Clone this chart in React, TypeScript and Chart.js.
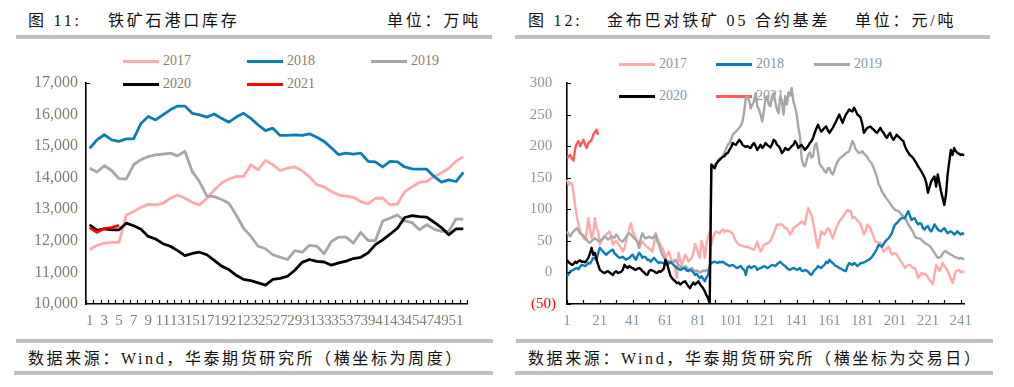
import React, { useEffect, useRef } from 'react';
import { Chart, registerables } from 'chart.js';

Chart.register(...registerables);

// ---------- Left chart: iron ore port inventory (weekly, 10k tons) ----------
const weekCats = Array.from({ length: 52 }, (_, i) => String(i + 1));
const inv2017 = [11720, 11860, 11930, 11950, 11950, 12820, 12930, 13060, 13160, 13140, 13190, 13350, 13450, 13350, 13220, 13140, 13350, 13610, 13830, 13960, 14040, 14040, 14410, 14250, 14550, 14410, 14230, 14300, 14340, 14220, 14020, 13780, 13710, 13560, 13450, 13420, 13380, 13240, 13170, 13350, 13350, 13140, 13170, 13560, 13710, 13850, 13880, 14040, 14150, 14300, 14520, 14670];
const inv2018 = [14930, 15200, 15360, 15200, 15150, 15230, 15230, 15720, 15940, 15830, 15990, 16150, 16270, 16270, 16040, 15990, 15920, 16020, 15880, 15760, 15920, 16040, 15880, 15670, 15490, 15570, 15340, 15340, 15360, 15340, 15390, 15280, 15150, 14940, 14730, 14780, 14750, 14780, 14520, 14500, 14340, 14520, 14500, 14340, 14280, 14270, 14270, 14040, 13860, 13930, 13880, 14170];
const inv2019 = [14300, 14180, 14380, 14230, 13970, 13960, 14410, 14570, 14670, 14720, 14750, 14780, 14690, 14840, 14200, 13870, 13420, 13400, 13310, 13190, 12820, 12400, 12140, 11830, 11750, 11560, 11480, 11410, 11690, 11640, 11860, 11830, 11590, 11980, 12120, 12120, 11930, 12270, 12010, 12010, 12630, 12720, 12820, 12630, 12580, 12350, 12510, 12370, 12300, 12300, 12690, 12690];
const inv2020 = [12510, 12330, 12380, 12350, 12350, 12560, 12480, 12370, 12140, 12060, 11910, 11830, 11690, 11530, 11600, 11640, 11560, 11380, 11200, 11090, 10910, 10780, 10740, 10670, 10600, 10780, 10810, 10880, 11070, 11320, 11410, 11350, 11330, 11230, 11300, 11360, 11440, 11480, 11620, 11880, 12030, 12210, 12400, 12740, 12800, 12770, 12750, 12590, 12420, 12190, 12380, 12380];
const inv2021 = [12420, 12270, 12390, 12420, 12490];

// ---------- Right chart: basis (trading days, yuan/ton) ----------
const dayCats = Array.from({ length: 243 }, (_, i) => String(i + 1));
const basis2017 = [
  147, 139, 142, 140, 125, 105, 88, 76, 65, 60,
  55, 52, 64, 86, 70, 54, 62, 86, 70, 65,
  44, 50, 54, 58, 60, 63, 65, 55, 44, 48,
  50, 46, 42, 39, 33, 38, 49, 60, 70, 78,
  65, 60, 54, 50, 39, 44, 49, 45, 42, 40,
  38, 36, 33, 45, 62, 55, 49, 44, 39, 33,
  23, 28, 33, 25, 18, 12, 5, -9, 31, 20,
  12, 20, 28, 24, 17, 20, 23, 30, 45, 39,
  30, 23, 50, 40, 23, 45, 58, 65, 44, 55,
  62, 65, 63, 62, 66, 68, 64, 67, 65, 66,
  63, 62, 55, 49, 46, 44, 43, 42, 41, 40,
  41, 39, 38, 37, 36, 42, 49, 40, 33, 38,
  44, 45, 46, 47, 50, 55, 62, 68, 76, 75,
  76, 76, 73, 70, 70, 65, 60, 64, 70, 72,
  74, 76, 78, 81, 78, 76, 90, 102, 96, 91,
  80, 65, 50, 39, 52, 65, 62, 60, 65, 70,
  68, 60, 54, 62, 70, 75, 81, 84, 88, 91,
  96, 99, 97, 97, 86, 88, 86, 82, 80, 76,
  68, 60, 66, 76, 73, 70, 62, 56, 49, 48,
  47, 47, 40, 33, 36, 38, 41, 35, 28, 30,
  31, 28, 24, 20, 16, 12, 7, 10, 12, 12,
  9, 7, 7, 0, -9, -5, -1, -3, -2, -4,
  -8, -12, -15, -19, -3, 12, 8, 2, 8, 15,
  10, 7, 2, -4, -10, -17, -8, 2, 3, 4,
  0, 2, -1,
];
const basis2018 = [
  -6, -3, 2, 3, 4, 6, 7, 5, 9, 12,
  11, 10, 12, 15, 14, 18, 23, 22, 20, 31,
  39, 36, 33, 30, 28, 31, 33, 35, 36, 30,
  28, 25, 23, 24, 25, 22, 20, 22, 23, 26,
  28, 24, 20, 26, 31, 28, 23, 25, 24, 20,
  20, 17, 20, 23, 20, 17, 15, 16, 15, 15,
  13, 12, 14, 17, 14, 12, 10, 7, 6, 4,
  5, 7, 6, 3, 2, 4, 3, 0, -4, -2,
  -6, -9, -6, -10, -14, -8, -4, 12, 15, 16,
  17, 16, 15, 17, 16, 17, 15, 13, 12, 10,
  11, 12, 10, 8, 7, 9, 10, 6, 4, -4,
  8, 10, 7, 8, 10, 9, 4, 6, 7, 8,
  10, 9, 7, 8, 10, 12, 11, 10, 13, 15,
  17, 14, 12, 10, 7, 5, 4, 6, 7, 6,
  4, 5, 7, 3, 2, 4, 3, 1, -2, -4,
  0, 4, 6, 10, 8, 7, 10, 12, 17, 15,
  20, 17, 15, 12, 10, 9, 7, 6, 4, 3,
  2, 10, 15, 13, 12, 15, 13, 10, 12, 15,
  15, 16, 17, 19, 20, 22, 25, 29, 33, 38,
  44, 42, 41, 45, 49, 52, 54, 58, 62, 70,
  76, 78, 81, 84, 86, 86, 86, 92, 97, 90,
  83, 85, 86, 80, 76, 78, 77, 70, 68, 72,
  73, 68, 65, 70, 76, 72, 68, 66, 65, 68,
  70, 66, 62, 64, 65, 63, 60, 62, 65, 62,
  60, 62, 60,
];
const basis2019 = [
  65, 60, 57, 62, 65, 68, 70, 66, 62, 60,
  58, 55, 52, 48, 47, 50, 52, 54, 52, 50,
  49, 52, 54, 57, 55, 52, 54, 57, 56, 55,
  60, 57, 52, 50, 49, 52, 56, 60, 62, 60,
  57, 54, 52, 47, 39, 55, 62, 56, 54, 55,
  57, 55, 54, 57, 60, 50, 44, 36, 28, 24,
  20, 18, 17, 16, 15, 17, 20, 16, 12, 10,
  7, 8, 10, 8, 4, 5, 7, 4, 2, 3,
  2, 0, 1, 3, 2, 4, 2, 3, 162, 165,
  170, 173, 176, 180, 181, 185, 190, 196, 202, 205,
  210, 218, 221, 223, 226, 229, 233, 239, 255, 276,
  279, 272, 260, 266, 271, 284, 263, 258, 250, 239,
  255, 276, 279, 266, 263, 279, 284, 270, 258, 252,
  279, 271, 250, 279, 266, 285, 280, 292, 271, 262,
  250, 230, 216, 181, 171, 168, 176, 186, 190, 182,
  184, 200, 205, 190, 172, 168, 165, 160, 158, 165,
  165, 158, 155, 162, 170, 176, 180, 182, 184, 186,
  189, 190, 192, 200, 208, 203, 195, 192, 189, 190,
  192, 188, 186, 183, 178, 175, 171, 165, 158, 150,
  139, 135, 128, 124, 120, 116, 113, 109, 105, 102,
  99, 98, 97, 95, 91, 89, 86, 82, 76, 72,
  68, 64, 57, 55, 54, 54, 52, 49, 47, 45,
  44, 42, 39, 35, 31, 27, 23, 24, 25, 30,
  33, 34, 31, 30, 28, 27, 25, 24, 23, 22,
  23, 22, 20,
];
const basis2020 = [
  20, 16, 14, 12, 13, 17, 15, 18, 19, 17,
  17, 16, 19, 23, 30, 39, 28, 31, 20, 12,
  4, 2, 0, -1, 1, 2, 0, -2, -4, 0,
  2, -1, 0, 1, 4, 12, 9, 7, 10, 8,
  7, 5, 4, 6, 7, 5, 2, 0, -3, -4,
  2, 4, 3, 2, 0, -1, 2, 1, 3, 6,
  20, 14, 4, -5, -9, -12, -14, -17, -16, -19,
  -17, -15, -14, -18, -22, -25, -20, -16, -19, -17,
  -14, -18, -22, -25, -30, -36, -41, -50, 171, 168,
  165, 172, 176, 178, 181, 183, 184, 188, 189, 194,
  198, 205, 203, 202, 206, 210, 207, 202, 200, 199,
  200, 198, 197, 202, 205, 200, 194, 198, 202, 197,
  200, 205, 202, 200, 198, 203, 210, 208, 202, 200,
  196, 189, 192, 197, 195, 194, 197, 200, 202, 208,
  204, 197, 200, 202, 198, 194, 197, 200, 205, 208,
  213, 221, 228, 234, 228, 223, 226, 229, 231, 225,
  221, 225, 229, 234, 239, 245, 250, 243, 237, 244,
  250, 254, 258, 256, 255, 261, 256, 250, 248, 245,
  235, 221, 225, 229, 230, 231, 228, 226, 223, 221,
  225, 229, 224, 221, 216, 213, 218, 221, 214, 210,
  214, 218, 215, 213, 210, 208, 200, 194, 190, 186,
  184, 181, 177, 173, 168, 164, 160, 155, 150, 142,
  126, 135, 144, 148, 152, 136, 155, 142, 128, 118,
  107, 123, 155, 175, 194, 186, 197, 192, 189, 188,
  186, 187, 185,
];
const basis2021 = [181, 184, 186, 180, 177, 197, 204, 208, 200, 205, 210, 203, 197, 205, 207, 210, 218, 222, 226, 218];

const yearNames = ['2017', '2018', '2019', '2020', '2021'];

const PINK = '#FFAAAA';
const BLUE = '#0A7DB4';
const GRAY = '#A6A6A6';
const BLACK = '#000000';
const RED_L = '#FF0000';
const RED_R = '#FF5A5A';
const LEFT_TXT = '#8C7A6A';
const RIGHT_TXT = '#8497B0';
const SERIF = "'Liberation Serif', 'DejaVu Serif', serif";
const CJK = "'Liberation Serif', 'Noto Sans CJK SC', serif";

const innerTicks = {
  id: 'innerTicks',
  afterDraw(chart: any, _args: any, opts: any) {
    const { ctx, chartArea } = chart;
    const xs = chart.scales.x;
    const ys = chart.scales.y;
    ctx.save();
    ctx.strokeStyle = '#000';
    ctx.lineWidth = 1.2;
    ctx.beginPath();
    const n = chart.data.labels.length;
    if (opts.xMode === 'boundary') {
      for (let i = 0; i <= n; i++) {
        const px = Math.round(xs.getPixelForValue(i - 0.5)) + 0.5;
        ctx.moveTo(px, chartArea.bottom);
        ctx.lineTo(px, chartArea.bottom - opts.len);
      }
    } else {
      for (let i = 0; i < n; i += opts.xEvery) {
        const px = Math.round(xs.getPixelForValue(i)) + 0.5;
        ctx.moveTo(px, chartArea.bottom);
        ctx.lineTo(px, chartArea.bottom - opts.len);
      }
    }
    if (opts.yAll) {
      ys.ticks.forEach((t: any) => {
        const py = Math.round(ys.getPixelForValue(t.value)) + 0.5;
        ctx.moveTo(chartArea.left, py);
        ctx.lineTo(chartArea.left + opts.len, py);
      });
    } else {
      const py = Math.round(ys.getPixelForValue(ys.max)) + 0.5;
      ctx.moveTo(chartArea.left, py);
      ctx.lineTo(chartArea.left + opts.len, py);
    }
    ctx.stroke();
    ctx.restore();
  },
};

function ds(label: string, data: number[], color: string, order: number, width: number) {
  return {
    label,
    data,
    borderColor: color,
    backgroundColor: color,
    borderWidth: width,
    pointRadius: 0,
    pointHoverRadius: 0,
    tension: 0,
    fill: false,
    order,
    borderJoinStyle: 'round' as const,
  };
}

function leftConfig(): any {
  return {
    type: 'line',
    data: {
      labels: weekCats,
      datasets: [
        ds(yearNames[4], inv2021, RED_L, 1, 2.8),
        ds(yearNames[3], inv2020, BLACK, 2, 2.8),
        ds(yearNames[1], inv2018, BLUE, 3, 2.8),
        ds(yearNames[2], inv2019, GRAY, 4, 2.8),
        ds(yearNames[0], inv2017, PINK, 5, 2.8),
      ],
    },
    plugins: [innerTicks],
    options: {
      responsive: false,
      animation: false,
      devicePixelRatio: 1,
      layout: { padding: { top: 43, right: 33, left: 0, bottom: 0 } },
      plugins: {
        legend: { display: false },
        tooltip: { enabled: false },
        innerTicks: { xMode: 'boundary', len: 4, yAll: false },
      },
      scales: {
        x: {
          type: 'category',
          offset: true,
          grid: { display: false, drawTicks: false },
          border: { display: true, color: '#000', width: 1.6 },
          ticks: {
            autoSkip: false,
            maxRotation: 0,
            minRotation: 0,
            padding: 8,
            color: LEFT_TXT,
            font: { family: SERIF, size: 15 },
            callback: (_v: any, i: number) => (i % 2 === 0 ? weekCats[i] : ''),
          },
          afterFit: (s: any) => {
            s.height = 36;
            s.paddingLeft = 0;
            s.paddingRight = 0;
          },
        },
        y: {
          min: 10000,
          max: 17000,
          grid: { display: false, drawTicks: false },
          border: { display: true, color: '#000', width: 1.6 },
          ticks: {
            stepSize: 1000,
            padding: 8,
            color: LEFT_TXT,
            font: { family: SERIF, size: 16 },
            callback: (v: number) => v.toLocaleString('en-US'),
          },
          afterFit: (s: any) => {
            s.width = 86;
            s.paddingTop = 0;
            s.paddingBottom = 0;
          },
        },
      },
    },
  };
}

function rightConfig(): any {
  return {
    type: 'line',
    data: {
      labels: dayCats,
      datasets: [
        ds(yearNames[4], basis2021, RED_R, 1, 2.4),
        ds(yearNames[3], basis2020, BLACK, 2, 2.4),
        ds(yearNames[1], basis2018, BLUE, 3, 2.4),
        ds(yearNames[2], basis2019, GRAY, 4, 2.4),
        ds(yearNames[0], basis2017, PINK, 5, 2.4),
      ],
    },
    plugins: [innerTicks],
    options: {
      responsive: false,
      animation: false,
      devicePixelRatio: 1,
      layout: { padding: { top: 43, right: 50, left: 0, bottom: 0 } },
      plugins: {
        legend: { display: false },
        tooltip: { enabled: false },
        innerTicks: { xMode: 'every', xEvery: 10, len: 4, yAll: true },
      },
      scales: {
        x: {
          type: 'category',
          offset: false,
          grid: { display: false, drawTicks: false },
          border: { display: true, color: '#000', width: 1.6 },
          ticks: {
            autoSkip: false,
            maxRotation: 0,
            minRotation: 0,
            padding: 8,
            color: RIGHT_TXT,
            font: { family: SERIF, size: 15 },
            callback: (_v: any, i: number) => (i % 20 === 0 ? dayCats[i] : ''),
          },
          afterFit: (s: any) => {
            s.height = 36;
            s.paddingLeft = 0;
            s.paddingRight = 0;
          },
        },
        y: {
          min: -50,
          max: 300,
          grid: { display: false, drawTicks: false },
          border: { display: true, color: '#000', width: 1.6 },
          ticks: {
            stepSize: 50,
            padding: 11,
            color: (c: any) => (c.tick && c.tick.value < 0 ? '#FF0000' : RIGHT_TXT),
            font: { family: SERIF, size: 15 },
            callback: (v: number) => (v < 0 ? `(${-v})` : `${v} `),
          },
          afterFit: (s: any) => {
            s.width = 67;
            s.paddingTop = 0;
            s.paddingBottom = 0;
          },
        },
      },
    },
  };
}

function ChartCanvas({ make, left, top, width, height }: any) {
  const ref = useRef<HTMLCanvasElement | null>(null);
  useEffect(() => {
    const chart = new Chart(ref.current as HTMLCanvasElement, make());
    return () => chart.destroy();
  }, []);
  return (
    <canvas
      ref={ref}
      width={width}
      height={height}
      style={{ position: 'absolute', left, top, width, height }}
    />
  );
}

function Abs({ left, top, children, style }: any) {
  return (
    <div style={{ position: 'absolute', left, top, whiteSpace: 'nowrap', ...style }}>{children}</div>
  );
}

function Bar({ left, top, width, height = 4 }: any) {
  return <div style={{ position: 'absolute', left, top, width, height, background: '#C0C0C0' }} />;
}

function LegendItem({ x, y, color, label, txt }: any) {
  return (
    <>
      <div style={{ position: 'absolute', left: x, top: y - 1.5, width: 36, height: 3, background: color }} />
      <Abs left={x + 40} top={y - 9} style={{ font: `14px ${SERIF}`, lineHeight: '18px', color: txt }}>
        {label}
      </Abs>
    </>
  );
}

const titleStyle = { font: `16px ${CJK}`, lineHeight: '20px', letterSpacing: '2.8px', color: '#111' };
const footStyle = { font: `16px ${CJK}`, lineHeight: '20px', letterSpacing: '2.6px', color: '#111' };

export default function App() {
  return (
    <div style={{ position: 'fixed', left: 0, top: 0, width: 1014, height: 387, background: '#fff', overflow: 'hidden' }}>
      {/* Titles */}
      <Abs left={28} top={11} style={titleStyle}>图 11:</Abs>
      <Abs left={108} top={11} style={titleStyle}>铁矿石港口库存</Abs>
      <Abs left={387} top={11} style={titleStyle}>单位：万吨</Abs>
      <Abs left={528} top={11} style={titleStyle}>图 12:</Abs>
      <Abs left={607} top={11} style={titleStyle}>金布巴对铁矿 05 合约基差</Abs>
      <Abs left={855} top={11} style={titleStyle}>单位：元/吨</Abs>
      <Bar left={16} top={35} width={476} />
      <Bar left={515} top={35} width={475} />

      {/* Legends (under the plot lines) */}
      <LegendItem x={123} y={61} color={PINK} label={yearNames[0]} txt={LEFT_TXT} />
      <LegendItem x={247} y={61} color={BLUE} label={yearNames[1]} txt={LEFT_TXT} />
      <LegendItem x={371} y={61} color={GRAY} label={yearNames[2]} txt={LEFT_TXT} />
      <LegendItem x={123} y={84} color={BLACK} label={yearNames[3]} txt={LEFT_TXT} />
      <LegendItem x={247} y={84} color={RED_L} label={yearNames[4]} txt={LEFT_TXT} />

      <LegendItem x={619} y={64} color={PINK} label={yearNames[0]} txt={RIGHT_TXT} />
      <LegendItem x={716} y={64} color={BLUE} label={yearNames[1]} txt={RIGHT_TXT} />
      <LegendItem x={814} y={64} color={GRAY} label={yearNames[2]} txt={RIGHT_TXT} />
      <LegendItem x={619} y={96} color={BLACK} label={yearNames[3]} txt={RIGHT_TXT} />
      <LegendItem x={716} y={96} color={RED_R} label={yearNames[4]} txt={RIGHT_TXT} />

      <ChartCanvas make={leftConfig} left={0} top={40} width={500} height={300} />
      <ChartCanvas make={rightConfig} left={500} top={40} width={514} height={300} />

      {/* Footers */}
      <Bar left={16} top={339} width={477} />
      <Bar left={14} top={371} width={479} />
      <Bar left={516} top={339} width={477} />
      <Bar left={515} top={371} width={478} />
      <Abs left={28} top={349} style={footStyle}>数据来源：Wind，华泰期货研究所（横坐标为周度）</Abs>
      <Abs left={528} top={349} style={footStyle}>数据来源：Wind，华泰期货研究所（横坐标为交易日）</Abs>
    </div>
  );
}
